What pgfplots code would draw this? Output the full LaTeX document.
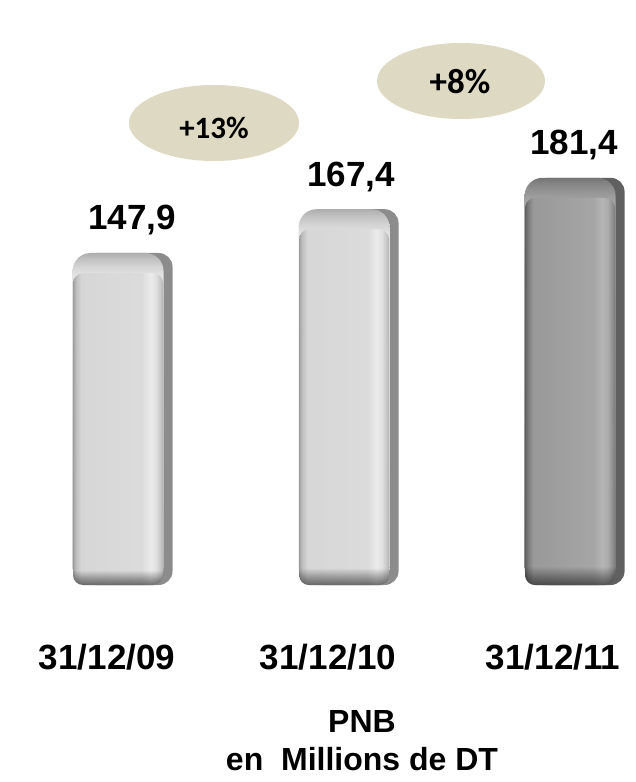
\documentclass[border=0pt]{standalone}
\usepackage{fontspec}
\setmainfont{Liberation Sans}
\newfontfamily\carlito{Carlito}
\usepackage{pgfplots}
\usepackage{pgfplotstable}
\pgfplotsset{compat=1.18}
\usetikzlibrary{shapes.geometric,fadings}
\definecolor{ell}{HTML}{DDD9C3}
\definecolor{sidel}{HTML}{8C8C8C}
\definecolor{sided}{HTML}{606060}
\pgfdeclarehorizontalshading{frontlight}{100bp}{rgb(0bp)=(.62,.62,.62); rgb(25bp)=(.62,.62,.62); rgb(26.5bp)=(.74,.74,.74); rgb(29.5bp)=(.84,.84,.84); rgb(63bp)=(.86,.86,.86); rgb(68bp)=(.92,.92,.92); rgb(71bp)=(.88,.88,.88); rgb(73.5bp)=(.78,.78,.78); rgb(75bp)=(.70,.70,.70); rgb(100bp)=(.70,.70,.70)}
\pgfdeclarehorizontalshading{frontdark}{100bp}{rgb(0bp)=(.38,.38,.38); rgb(25bp)=(.38,.38,.38); rgb(26.5bp)=(.48,.48,.48); rgb(29.5bp)=(.60,.60,.60); rgb(63bp)=(.65,.65,.65); rgb(68bp)=(.71,.71,.71); rgb(71bp)=(.67,.67,.67); rgb(73.5bp)=(.56,.56,.56); rgb(75bp)=(.47,.47,.47); rgb(100bp)=(.47,.47,.47)}
\pgfdeclareverticalshading{bevellight}{100bp}{rgb(0bp)=(.80,.80,.80); rgb(25bp)=(.80,.80,.80); rgb(71.5bp)=(.90,.90,.90); rgb(73bp)=(.83,.83,.83); rgb(74.2bp)=(.75,.75,.75); rgb(75bp)=(.68,.68,.68); rgb(100bp)=(.68,.68,.68)}
\pgfdeclareverticalshading{beveldark}{100bp}{rgb(0bp)=(.55,.55,.55); rgb(25bp)=(.55,.55,.55); rgb(71.5bp)=(.68,.68,.68); rgb(73bp)=(.60,.60,.60); rgb(74.2bp)=(.53,.53,.53); rgb(75bp)=(.46,.46,.46); rgb(100bp)=(.46,.46,.46)}
\pgfdeclareverticalshading{bfadeshade}{100bp}{color(0bp)=(pgftransparent!45); color(25bp)=(pgftransparent!45); color(26.2bp)=(pgftransparent!70); color(27.5bp)=(pgftransparent!100); color(100bp)=(pgftransparent!100)}
\pgfdeclarefading{bottomdark}{\pgfuseshading{bfadeshade}}
\pgfplotstableread{
x v
0 147.9
}\barA
\pgfplotstableread{
x v
1 167.4
}\barB
\pgfplotstableread{
x v
2 181.4
}\barC
\newcommand{\vallabel}{\fontsize{35}{40}\selectfont\bfseries\pgfmathprintnumber[fixed, fixed zerofill, precision=1, use comma, assume math mode=true]{\pgfplotspointmeta}}
% #1 table, #2 side colour, #3 bevel shading, #4 front shading, #5 label xshift
\newcommand{\bevelbar}[5]{%
  \addplot[ybar, bar shift=5.5pt, draw=none, fill=#2, rounded corners=14pt] table[x=x, y=v] {#1};
  \addplot[ybar, bar shift=-4pt, bar width=91pt, draw=none, shading=#3, rounded corners=18pt,
    nodes near coords={\vallabel}, every node near coord/.append style={xshift=#5}] table[x=x, y=v] {#1};
  \addplot[ybar, bar shift=-4pt, draw=none, shading=#4, rounded corners=10pt] table[x=x, y expr=\thisrow{v}-9] {#1};
  \addplot[ybar, bar shift=-4pt, draw=none, fill=black, path fading=bottomdark, rounded corners=10pt] table[x=x, y expr=\thisrow{v}-9] {#1};
}
\begin{document}
\begin{tikzpicture}
\useasboundingbox (0,0) rectangle (636pt,782pt);
\begin{axis}[at={(0pt,0pt)}, anchor=south west, scale only axis,
  width=636pt, height=782pt, xmin=-0.54, xmax=2.274, ymin=-87.75, ymax=260.6,
  hide axis, clip=false, bar width=90pt,
  every node near coord/.append style={anchor=base, yshift=23pt, text=black, inner sep=0pt}]
\bevelbar{\barA}{sidel}{bevellight}{frontlight}{10pt}
\bevelbar{\barB}{sidel}{bevellight}{frontlight}{3pt}
\bevelbar{\barC}{sided}{beveldark}{frontdark}{0pt}
% category labels
\node[anchor=base, xshift=-15pt, yshift=-84pt, font=\fontsize{35}{40}\selectfont\bfseries] at (axis cs:0,0) {31/12/09};
\node[anchor=base, xshift=-20pt, yshift=-84pt, font=\fontsize{35}{40}\selectfont\bfseries] at (axis cs:1,0) {31/12/10};
\node[anchor=base, xshift=-21pt, yshift=-84pt, font=\fontsize{35}{40}\selectfont\bfseries] at (axis cs:2,0) {31/12/11};
\end{axis}
% growth ellipses
\node[ellipse, fill=ell, minimum width=170pt, minimum height=76pt, inner sep=0pt] at (214pt,659pt) {};
\node[font=\carlito\fontsize{31}{34}\selectfont\bfseries, inner sep=0pt] at (214pt,654.5pt) {+13\%};
\node[ellipse, fill=ell, minimum width=168pt, minimum height=76pt, inner sep=0pt] at (461pt,701pt) {};
\node[font=\carlito\fontsize{35}{40}\selectfont\bfseries, inner sep=0pt] at (460pt,700pt) {+8\%};
% bottom caption
\node[anchor=base, inner sep=0pt, font=\fontsize{32}{36}\selectfont\bfseries] at (362pt,49pt) {PNB};
\node[anchor=base, inner sep=0pt, font=\fontsize{32}{36}\selectfont\bfseries] at (362pt,12pt) {en~~Millions de DT};
\end{tikzpicture}
\end{document}
